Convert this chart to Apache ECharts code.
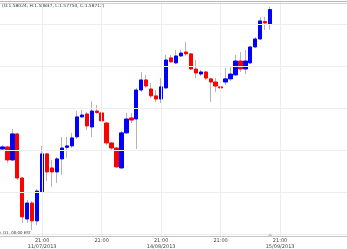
<!DOCTYPE html>
<html>
<head>
<meta charset="utf-8">
<script src="https://cdn.jsdelivr.net/npm/echarts@6/dist/echarts.min.js"></script>
<style>
  html, body { margin: 0; padding: 0; background: #fff; }
  #chart { width: 347px; height: 249px; }
</style>
</head>
<body>
<div id="chart"></div>
<script>
// daily candles
const opens = [1.5207,1.5217,1.5155,1.5279,1.5069,1.4874,1.4950,1.4865,1.5003,1.5184,1.5117,1.5098,1.5160,1.5215,1.5222,1.5265,1.5360,1.5374,1.5312,1.5388,1.5379,1.5331,1.5236,1.5212,1.5117,1.5284,1.5355,1.5350,1.5488,1.5536,1.5493,1.5460,1.5445,1.5498,1.5641,1.5617,1.5650,1.5669,1.5660,1.5588,1.5564,1.5574,1.5541,1.5526,1.5503,1.5526,1.5541,1.5560,1.5626,1.5588,1.5617,1.5693,1.5731,1.5814,1.58024];
const closes = [1.5217,1.5155,1.5279,1.5069,1.4884,1.4950,1.4865,1.5007,1.5184,1.5098,1.5098,1.5160,1.5212,1.5222,1.5260,1.5360,1.5369,1.5317,1.5388,1.5381,1.5341,1.5236,1.5212,1.5122,1.5284,1.5350,1.5345,1.5488,1.5536,1.5507,1.5460,1.5445,1.5503,1.5631,1.5622,1.5650,1.5664,1.5660,1.5588,1.5569,1.5574,1.5545,1.5526,1.5507,1.5498,1.5541,1.5564,1.5626,1.5588,1.5626,1.5693,1.5731,1.5817,1.5807,1.58712];
const highs = [1.5226,1.5222,1.5303,1.5284,1.5074,1.4965,1.4960,1.5017,1.5222,1.5188,1.5155,1.5169,1.5265,1.5265,1.5284,1.5388,1.5393,1.5383,1.5436,1.5417,1.5412,1.5336,1.5241,1.5217,1.5293,1.5379,1.5379,1.5498,1.5574,1.5560,1.5522,1.5488,1.5545,1.5655,1.5655,1.5679,1.5679,1.5717,1.5664,1.5631,1.5583,1.5579,1.5545,1.5545,1.5522,1.5593,1.5598,1.5655,1.5669,1.5679,1.5698,1.5740,1.5836,1.5836,1.58837];
const lows = [1.5198,1.5141,1.5150,1.5060,1.4855,1.4855,1.4822,1.4846,1.4998,1.5055,1.5027,1.5046,1.5084,1.5165,1.5212,1.5255,1.5355,1.5298,1.5265,1.5374,1.5336,1.5226,1.5203,1.5117,1.5112,1.5279,1.5331,1.5207,1.5479,1.5498,1.5450,1.5431,1.5426,1.5493,1.5617,1.5612,1.5645,1.5650,1.5583,1.5545,1.5555,1.5536,1.5431,1.5479,1.5464,1.5512,1.5531,1.5555,1.5574,1.5564,1.5612,1.5688,1.5726,1.5774,1.5775];

// x slots (the axis runs on past the last candle)
const slotCount = 70;
const categories = Array.from({ length: slotCount }, (_, i) => String(i));
const tickLabels = {
  8: "21:00\n11/07/2013",
  20: "21:00",
  32: "21:00\n14/08/2013",
  44: "21:00",
  56: "21:00\n15/09/2013",
};
const priceGrid = [1.48, 1.50, 1.52, 1.54, 1.56, 1.58];
const lastClose = closes[closes.length - 1];
const header = "(O:1.58024, H:1.58837, L:1.57750, C:1.58712)";
const footer = "GBPUSD, D1, 00:00 EST";

const wickData = opens.map((o, i) => [o, o, lows[i], highs[i]]);
const bodyData = opens.map((o, i) => [o, closes[i], Math.min(o, closes[i]), Math.max(o, closes[i])]);

const chart = echarts.init(document.getElementById("chart"));

const option = {
  animation: false,
  backgroundColor: "#fff",
  grid: { left: -2.5, top: 2, width: 359.8, bottom: 13 },
  xAxis: {
    type: "category",
    data: categories,
    boundaryGap: true,
    axisLine: { show: true, lineStyle: { color: "#c4c4c4", width: 1 } },
    axisTick: { show: false },
    splitLine: { show: false },
    axisLabel: {
      interval: (i) => tickLabels[i] !== undefined,
      formatter: (v, i) => tickLabels[i] || "",
      fontSize: 5,
      lineHeight: 5.5,
      margin: 2,
      color: "#444",
      fontFamily: "DejaVu Sans",
    },
  },
  yAxis: {
    type: "value",
    min: 1.4793,
    max: 1.5907,
    axisLine: { show: false },
    axisTick: { show: false },
    axisLabel: { show: false },
    splitLine: { show: false },
  },
  graphic: [
    {
      type: "line",
      shape: { x1: 0, y1: 1.5, x2: 347, y2: 1.5 },
      style: { stroke: "#b8b8b8", lineWidth: 1 },
      silent: true,
    },
    {
      type: "text",
      left: 2,
      top: 3.5,
      style: { text: header, fontSize: 4.4, fill: "#333", fontFamily: "DejaVu Sans" },
      silent: true,
    },
    {
      type: "text",
      x: 31,
      y: 230.5,
      style: { text: footer, fontSize: 3.9, fill: "#333", align: "right", fontFamily: "DejaVu Sans" },
      silent: true,
    },
  ],
  series: [
    {
      type: "candlestick",
      name: "wick",
      data: wickData,
      barWidth: 1,
      itemStyle: {
        color: "#b4b4b4",
        color0: "#b4b4b4",
        borderColor: "#b4b4b4",
        borderColor0: "#b4b4b4",
        borderColorDoji: "#b4b4b4",
        borderWidth: 1,
      },
      markLine: {
        silent: true,
        symbol: "none",
        label: { show: false },
        lineStyle: { color: "#ededed", width: 1, type: "solid" },
        data: Object.keys(tickLabels).map((k) => ({ xAxis: categories[k] }))
          .concat(priceGrid.map((p) => ({ yAxis: p }))),
      },
      z: 2,
    },
    {
      type: "candlestick",
      name: "body",
      data: bodyData,
      barWidth: 3.8,
      itemStyle: {
        color: "#0000ff",
        color0: "#ff0000",
        borderColor: "#0000ff",
        borderColor0: "#ff0000",
        borderColorDoji: "#0000ff",
        borderWidth: 1,
      },
      markLine: {
        silent: true,
        symbol: "none",
        label: { show: false },
        lineStyle: { color: "#f2c4c4", width: 1, type: "solid" },
        data: [{ yAxis: lastClose }],
      },
      markPoint: {
        silent: true,
        symbol: "triangle",
        symbolSize: [5, 3],
        symbolOffset: [0, -1.5],
        label: { show: false },
        itemStyle: { color: "#cccccc" },
        data: [{ coord: [categories[opens.length - 1], 1.4793] }],
      },
      z: 3,
    },
  ],
};

chart.setOption(option);
</script>
</body>
</html>
